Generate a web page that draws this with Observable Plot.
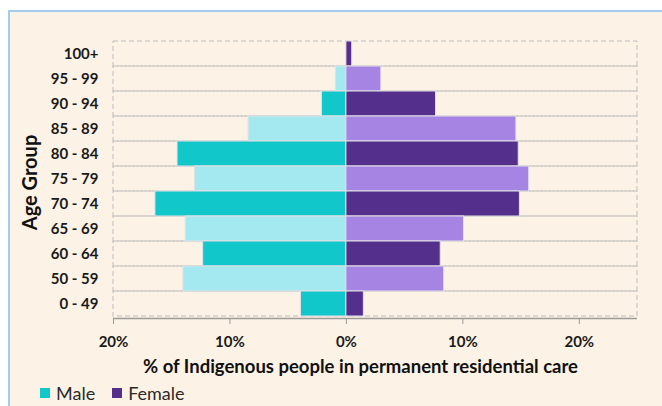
<!DOCTYPE html>
<html>
<head>
<meta charset="utf-8">
<script src="https://cdn.jsdelivr.net/npm/d3@7"></script>
<script src="https://cdn.jsdelivr.net/npm/@observablehq/plot@0.6"></script>
<style>
  html, body { margin: 0; padding: 0; background: #ffffff; width: 662px; height: 406px; overflow: hidden; }
  #panel { position: absolute; left: 8px; top: 10px; width: 654px; height: 396px; background: #FCF2E5;
           border-top: 2px solid #A3CDEE; border-left: 2px solid #A3CDEE; box-sizing: border-box; }
  #chart { position: absolute; left: 0; top: 0; }
  #legend { position: absolute; left: 40px; top: 381px; height: 24px; font-family: "Lato", sans-serif; font-size: 18px; color: #2a2a2a;
            display: flex; align-items: center; }
  .sw { display: inline-block; width: 10px; height: 10px; margin-right: 6px; }
  .item { display: inline-flex; align-items: center; margin-right: 17px; }
</style>
</head>
<body>
<div id="panel"></div>
<div id="chart"></div>
<div id="legend"></div>
<script>
const ageGroups = ["100+", "95 - 99", "90 - 94", "85 - 89", "80 - 84", "75 - 79", "70 - 74", "65 - 69", "60 - 64", "50 - 59", "0 - 49"];
const malePct   = [0, 0.9, 2.1, 8.4, 14.5, 13.0, 16.4, 13.8, 12.3, 14.0, 3.9];
const femalePct = [0.5, 3.0, 7.7, 14.6, 14.8, 15.7, 14.9, 10.1, 8.1, 8.4, 1.5];
const xTicks = [-20, -10, 0, 10, 20];
const xDomain = [-20, 25];
const sexes = ["Male", "Female"];
const shadeKeys = ["Male-dark", "Male-light", "Female-dark", "Female-light"];
const shadeColors = ["#11C7C9", "#A3E9EF", "#552F8C", "#A584E3"];
const legendColors = ["#11C7C9", "#552F8C"];
const xTitle = "% of Indigenous people in permanent residential care";
const yTitle = "Age Group";

const rows = [];
ageGroups.forEach((g, i) => {
  const shade = i % 2 === 0 ? "dark" : "light";
  rows.push({group: g, sex: "Male", value: -malePct[i], key: "Male-" + shade});
  rows.push({group: g, sex: "Female", value: femalePct[i], key: "Female-" + shade});
});

const font = "Lato, 'Open Sans', sans-serif";

const chart = Plot.plot({
  width: 662,
  height: 380,
  marginLeft: 113,
  marginRight: 25,
  marginTop: 38,
  marginBottom: 62,
  style: {background: "transparent", fontFamily: font, color: "#222"},
  x: {domain: xDomain, ticks: xTicks},
  y: {domain: ageGroups, padding: 0},
  color: {domain: shadeKeys, range: shadeColors},
  marks: [
    Plot.barX(ageGroups, {x1: xDomain[0], x2: xDomain[1], y: d => d, fill: "none", stroke: "#BDBDBD", strokeWidth: 1, strokeDasharray: "5,3"}),
    Plot.barX(rows, {x1: 0, x2: "value", y: "group", fill: "key", stroke: "#E4E0E6", strokeWidth: 1}),
    Plot.axisX({ticks: xTicks, tickSize: 6, tickPadding: 12, tickFormat: d => Math.abs(d) + "%", stroke: "#9a9a9a", fill: "#1a1a1a",
      fontSize: 15, fontWeight: "bold", label: null}),
    Plot.axisY({tickSize: 0, tickPadding: 15, fontSize: 15, fontWeight: "bold", fill: "#1a1a1a", label: null}),
    Plot.text([yTitle], {frameAnchor: "left", textAnchor: "middle", lineAnchor: "middle", rotate: -90, dx: -83, dy: 4, fontSize: 20, fontWeight: "bold", fill: "#111"}),
    Plot.text([xTitle], {frameAnchor: "bottom", textAnchor: "middle", lineAnchor: "middle", dx: -15, dy: 49, fontSize: 18.5, fontWeight: "bold", fill: "#111"})
  ]
});
document.getElementById("chart").appendChild(chart);

// axis baseline drawn through the x scale
const svg = d3.select(chart);
const sx = chart.scale("x");
svg.append("line")
  .attr("x1", sx.apply(xDomain[0])).attr("x2", sx.apply(xDomain[1]))
  .attr("y1", 380 - 62 + 0.5).attr("y2", 380 - 62 + 0.5)
  .attr("stroke", "#9a9a9a").attr("stroke-width", 1.5);

const legend = document.getElementById("legend");
sexes.forEach((s, i) => {
  const item = document.createElement("span");
  item.className = "item";
  item.innerHTML = `<span class="sw" style="background:${legendColors[i]}"></span>${s}`;
  legend.appendChild(item);
});
</script>
</body>
</html>
